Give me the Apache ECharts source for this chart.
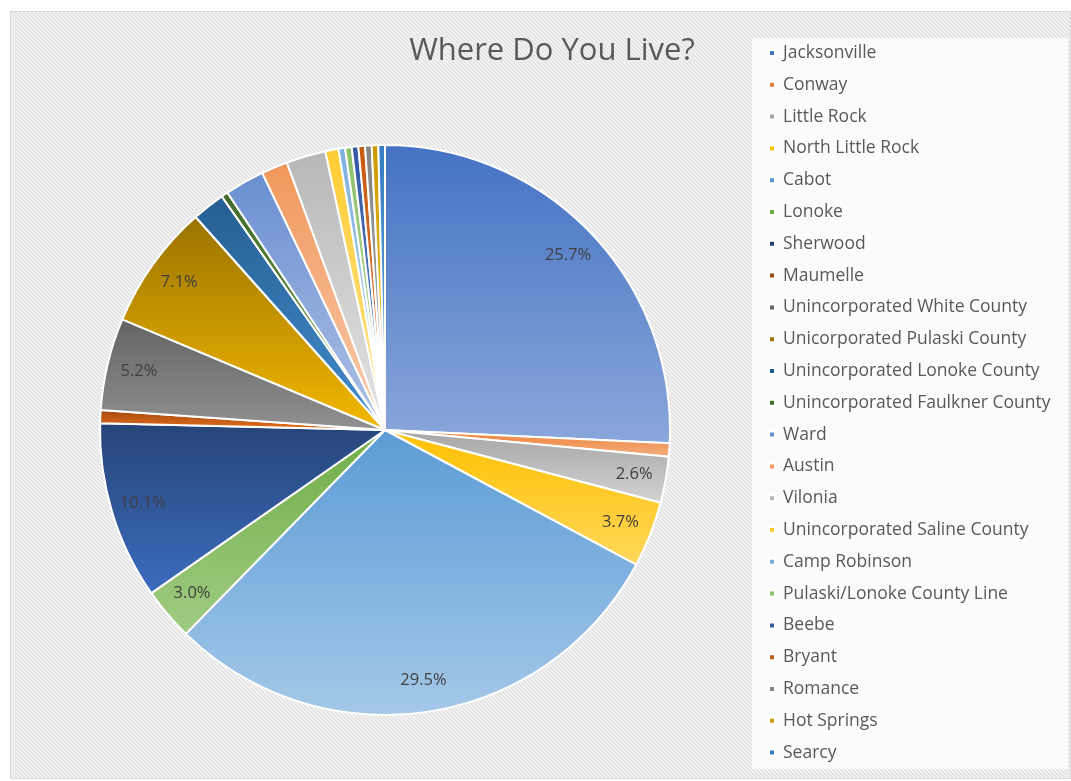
<!DOCTYPE html>
<html>
<head>
<meta charset="utf-8">
<title>Where Do You Live?</title>
<script src="https://cdn.jsdelivr.net/npm/echarts@6/dist/echarts.min.js"></script>
<style>
  html, body { margin: 0; padding: 0; background: #ffffff; }
  #frame {
    position: absolute; left: 10px; top: 11px; width: 1059px; height: 766px;
    border: 1px solid #d9d9d9;
    background-color: #f7f7f7;
    background-image: url("data:image/svg+xml;utf8,<svg xmlns='http://www.w3.org/2000/svg' width='4' height='4'><path d='M-1,-1 L5,5 M-1,3 L1,5 M3,-1 L5,1' stroke='%23dedede' stroke-width='1.3'/></svg>");
    background-repeat: repeat;
  }
  #chart { position: absolute; left: 0; top: 0; width: 1071px; height: 781px; }
</style>
</head>
<body>
<div id="frame"></div>
<div id="chart"></div>
<script>
// Survey answers: where respondents live (number of responses per place)
const places = [
  'Jacksonville', 'Conway', 'Little Rock', 'North Little Rock', 'Cabot', 'Lonoke',
  'Sherwood', 'Maumelle', 'Unincorporated White County', 'Unicorporated Pulaski County',
  'Unincorporated Lonoke County', 'Unincorporated Faulkner County', 'Ward', 'Austin',
  'Vilonia', 'Unincorporated Saline County', 'Camp Robinson', 'Pulaski/Lonoke County Line',
  'Beebe', 'Bryant', 'Romance', 'Hot Springs', 'Searcy'
];
const responses = [
  69, 2, 7, 10, 79, 8,
  27, 2, 14, 19,
  5, 1, 6, 4,
  6, 2, 1, 1,
  1, 1, 1, 1, 1
];
const sliceColors = [
  '#4472C4', '#ED7D31', '#A5A5A5', '#FFC000', '#5B9BD5', '#70AD47',
  '#264478', '#9E480E', '#636363', '#997300', '#255E91', '#43682B',
  '#698ED0', '#F1975A', '#B7B7B7', '#FFCD33', '#7CAFDD', '#8CC168',
  '#335AA1', '#C55A11', '#848484', '#CC9A00', '#327DC2'
];
const titleText = 'Where Do You Live?';
const labelMinPercent = 2.5;

const total = responses.reduce((a, b) => a + b, 0);

// lighten a hex colour in HSL space
function lighten(hex, amount) {
  let r = parseInt(hex.slice(1, 3), 16) / 255;
  let g = parseInt(hex.slice(3, 5), 16) / 255;
  let b = parseInt(hex.slice(5, 7), 16) / 255;
  const max = Math.max(r, g, b), min = Math.min(r, g, b);
  let h = 0, s = 0, l = (max + min) / 2;
  if (max !== min) {
    const d = max - min;
    s = l > 0.5 ? d / (2 - max - min) : d / (max + min);
    if (max === r) h = (g - b) / d + (g < b ? 6 : 0);
    else if (max === g) h = (b - r) / d + 2;
    else h = (r - g) / d + 4;
    h /= 6;
  }
  l = Math.min(0.95, l + amount);
  function hue2rgb(p, q, t) {
    if (t < 0) t += 1;
    if (t > 1) t -= 1;
    if (t < 1 / 6) return p + (q - p) * 6 * t;
    if (t < 1 / 2) return q;
    if (t < 2 / 3) return p + (q - p) * (2 / 3 - t) * 6;
    return p;
  }
  if (s === 0) { r = g = b = l; }
  else {
    const q = l < 0.5 ? l * (1 + s) : l + s - l * s;
    const p = 2 * l - q;
    r = hue2rgb(p, q, h + 1 / 3);
    g = hue2rgb(p, q, h);
    b = hue2rgb(p, q, h - 1 / 3);
  }
  const toHex = v => Math.round(v * 255).toString(16).padStart(2, '0');
  return '#' + toHex(r) + toHex(g) + toHex(b);
}

const sliceData = places.map((name, i) => ({
  name: name,
  value: responses[i],
  itemStyle: {
    color: {
      type: 'linear', x: 0, y: 0, x2: 0, y2: 1,
      colorStops: [
        { offset: 0, color: sliceColors[i] },
        { offset: 1, color: lighten(sliceColors[i], 0.18) }
      ]
    }
  }
}));

const labelData = places.map((name, i) => ({ name: name, value: responses[i] }));

const legendData = places.map((name, i) => ({
  name: name,
  itemStyle: { color: sliceColors[i] }
}));

const FONT = '"Open Sans", "Noto Sans", sans-serif';
const CENTER = [385, 430];
const RADIUS = 285;

const chart = echarts.init(document.getElementById('chart'), null, { renderer: 'canvas' });
chart.setOption({
  animation: false,
  title: {
    text: titleText,
    left: 547,
    top: 31,
    textAlign: 'center',
    textStyle: { fontFamily: FONT, fontSize: 31, fontWeight: 'normal', color: '#595959' }
  },
  graphic: [{
    type: 'rect',
    shape: { x: 752, y: 38, width: 316, height: 731 },
    style: { fill: 'rgba(255,255,255,0.8)' },
    z: -1,
    silent: true
  }],
  legend: {
    orient: 'vertical',
    left: 768,
    top: 43,
    padding: 0,
    icon: 'rect',
    itemWidth: 6,
    itemHeight: 6,
    itemGap: 11.8,
    selectedMode: false,
    data: legendData,
    textStyle: {
      fontFamily: FONT, fontSize: 17.5, color: '#595959', lineHeight: 20,
      padding: [0, 0, 0, 3]
    }
  },
  series: [
    {
      type: 'pie',
      center: CENTER,
      radius: [0, RADIUS],
      startAngle: 90,
      clockwise: true,
      silent: true,
      avoidLabelOverlap: false,
      label: { show: false },
      labelLine: { show: false },
      itemStyle: { borderColor: '#ffffff', borderWidth: 2 },
      data: sliceData
    },
    {
      // transparent ring that carries the percentage labels near the rim
      type: 'pie',
      center: CENTER,
      radius: [RADIUS - 70, RADIUS],
      startAngle: 90,
      clockwise: true,
      silent: true,
      avoidLabelOverlap: false,
      itemStyle: { color: 'rgba(0,0,0,0)', borderWidth: 0 },
      labelLine: { show: false },
      label: {
        show: true,
        position: 'inside',
        fontFamily: FONT,
        fontSize: 16.5,
        color: '#404040',
        formatter: function (p) {
          const pct = p.value / total * 100;
          return pct >= labelMinPercent ? pct.toFixed(1) + '%' : '';
        }
      },
      data: labelData
    }
  ]
});
</script>
</body>
</html>
